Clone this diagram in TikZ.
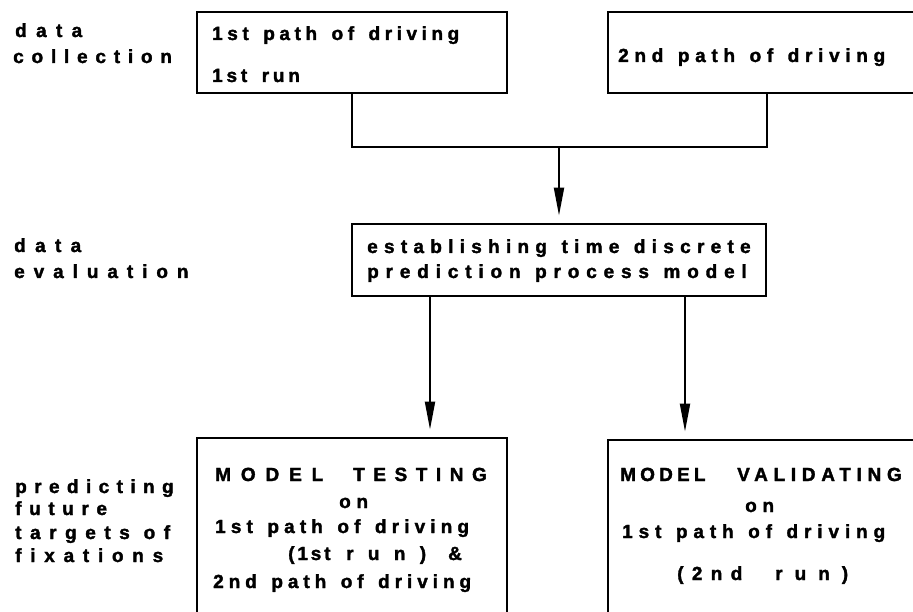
\documentclass[tikz,border=0pt]{standalone}
\usepackage{fontspec}
\setmainfont{Liberation Sans}[BoldFeatures={FakeBold=1.8}]
\usetikzlibrary{arrows.meta}
\newcommand\lsp[2]{{\addfontfeature{LetterSpace=#1}#2}}
\newcommand\wsp[2]{{\addfontfeature{LetterSpace=#1}\spaceskip=14.5pt\relax #2}}
\begin{document}
\begin{tikzpicture}[x=1pt,y=-1pt,
  box/.style={draw, line width=2.8pt, inner sep=0pt, rectangle},
  lbl/.style={anchor=base west, inner sep=0pt, font=\fontsize{19}{21}\selectfont\bfseries},
  link/.style={line width=2pt},
  arr/.style={line width=2pt, -{Triangle[length=28pt,width=10pt]}, shorten >=7pt}]
\clip (0,0) rectangle (913,612);
% boxes
\node[box, minimum width=310pt, minimum height=81pt] (b1) at (352,52.5) {};
\node[box, minimum width=317pt, minimum height=81pt] (b2) at (766.5,52.5) {};
\node[box, minimum width=414pt, minimum height=72pt] (b3) at (559,260) {};
\node[box, minimum width=310pt, minimum height=187pt] (b4) at (352,531.5) {};
\node[box, minimum width=317pt, minimum height=185pt] (b5) at (766.5,532.5) {};
% connectors
\coordinate (j) at (559,147);
\coordinate (xa) at (430,0);
\coordinate (xb) at (685,0);
\draw[link] (b1.south) -- (b1.south |- j) -- (b2.south |- j) -- (b2.south);
\draw[arr] (j) -- (b3.north);
\draw[arr] (b3.south -| xa) -- (b4.north -| xa);
\draw[arr] (b3.south -| xb) -- (b5.north -| xb);
% left labels
\node[lbl] (l1) at (15,37) {\lsp{49}{data}};
\node[lbl] (l2) at (13,63) {\lsp{41}{collection}};
\node[lbl] (l3) at (14,252) {\lsp{49}{data}};
\node[lbl] (l4) at (14,278) {\lsp{47}{evaluation}};
\node[lbl] (l5) at (15,493) {\lsp{39}{predicting}};
\node[lbl] (l6) at (15,515) {\lsp{40}{future}};
\node[lbl] (l7) at (15,539) {\lsp{45}{targets of}};
\node[lbl] (l8) at (15,562) {\lsp{46}{fixations}};
% box 1 and 2 texts
\node[lbl] (t1) at (212,40) {\wsp{24}{1st path of driving}};
\node[lbl] (t2) at (212,82) {\wsp{20}{1st run}};
\node[lbl] (t3) at (618,62) {\wsp{30}{2nd path of driving}};
% box 3 texts
\node[lbl] (t4) at (367,253) {\wsp{33}{establishing time discrete}};
\node[lbl] (t5) at (367,278) {\wsp{36}{prediction process model}};
% box 4 texts
\node[lbl] (t6) at (215,481) {\makebox[138pt][l]{\lsp{52}{MODEL}}\lsp{45}{TESTING}};
\node[lbl] (t7) at (339,508) {\lsp{30}{on}};
\node[lbl] (t8) at (215,533) {\wsp{27}{1st path of driving}};
\node[lbl] (t9) at (288,560) {\makebox[58pt][l]{\lsp{15}{(1st}}\makebox[102pt][l]{\makebox[80pt][s]{r\hfill u\hfill n\hfill )}}\&};
\node[lbl] (t10) at (213,588) {\wsp{26}{2nd path of driving}};
% box 5 texts
\node[lbl] (t11) at (620,481) {\makebox[117pt][l]{\lsp{22}{MODEL}}\lsp{30}{VALIDATING}};
\node[lbl] (t12) at (745,512) {\lsp{30}{on}};
\node[lbl] (t13) at (622,538) {\wsp{31}{1st path of driving}};
\node[lbl] (t14) at (677,580) {\makebox[98pt][l]{\lsp{44}{(2nd}}\makebox[73pt][s]{r\hfill u\hfill n\hfill )}};
\end{tikzpicture}
\end{document}
